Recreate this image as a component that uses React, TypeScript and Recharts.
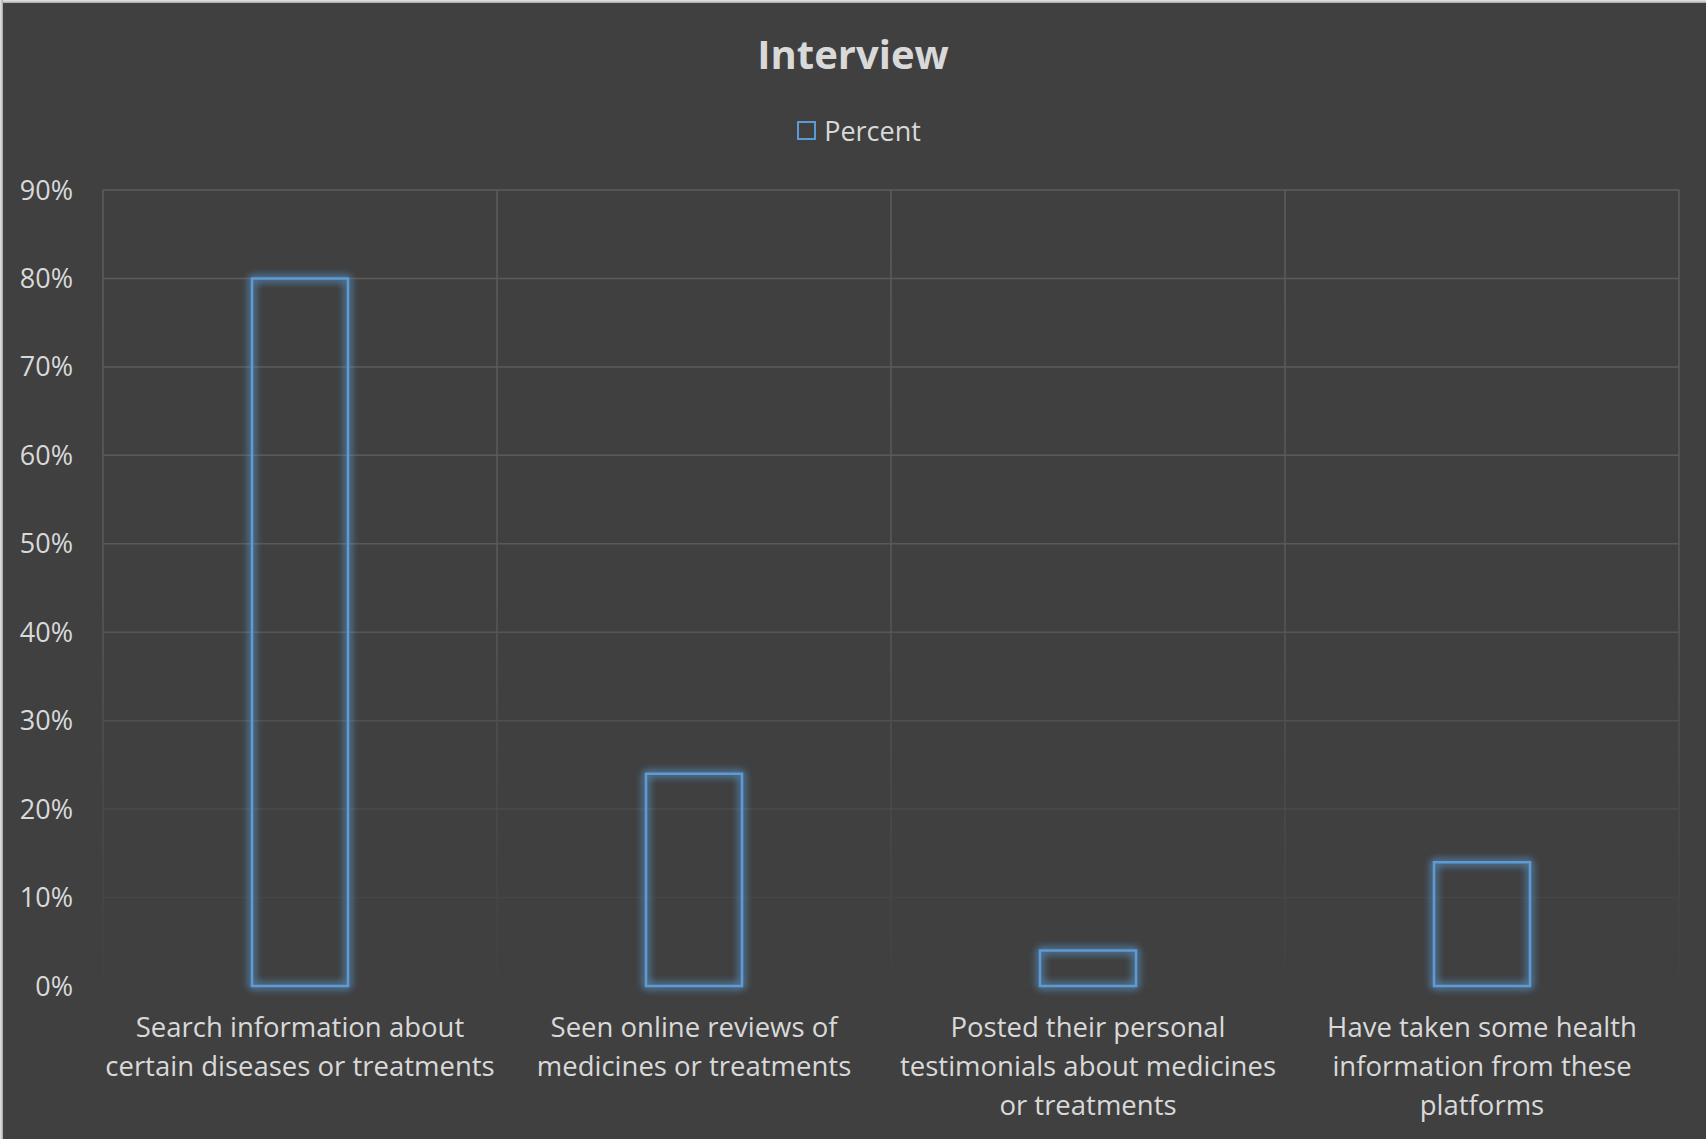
import React from "react";
import { Bar, BarChart, CartesianGrid, Legend, XAxis, YAxis } from "recharts";

const categories = [
  "Search information about\ncertain diseases or treatments",
  "Seen online reviews of\nmedicines or treatments",
  "Posted their personal\ntestimonials about medicines\nor treatments",
  "Have taken some health\ninformation from these\nplatforms",
];
const percentValues = [0.8, 0.24, 0.04, 0.14];
const yTicks = [0, 0.1, 0.2, 0.3, 0.4, 0.5, 0.6, 0.7, 0.8, 0.9];

const data = categories.map((name, i) => ({ name, Percent: percentValues[i] }));

const W = 1706;
const H = 1139;
const BG = "#404040";
const TEXT = "#d9d9d9";
const BLUE = "#5b9bd5";
const FONT = "'Open Sans', sans-serif";

const CategoryTick = (props: any) => {
  const { x, y, payload } = props;
  const lines = String(payload.value).split("\n");
  return (
    <text
      x={x}
      y={y + 51}
      textAnchor="middle"
      fill={TEXT}
      fontSize={27.5}
      fontFamily={FONT}
    >
      {lines.map((line, i) => (
        <tspan key={i} x={x} dy={i === 0 ? 0 : 39}>
          {line}
        </tspan>
      ))}
    </text>
  );
};

const LegendBox = () => (
  <div
    style={{
      display: "flex",
      justifyContent: "center",
      alignItems: "center",
      marginLeft: 12,
      fontFamily: FONT,
      fontSize: 27,
      lineHeight: "27px",
      color: TEXT,
    }}
  >
    <span
      style={{
        width: 19,
        height: 19,
        boxSizing: "border-box",
        border: `2px solid ${BLUE}`,
        marginRight: 8,
      }}
    />
    <span>Percent</span>
  </div>
);

export default function App() {
  return (
    <div
      style={{
        position: "absolute",
        left: 0,
        top: 0,
        width: W,
        height: H,
        background: BG,
        overflow: "hidden",
      }}
    >
      {/* shared svg defs: fading gridlines and bar glow */}
      <svg width={0} height={0} style={{ position: "absolute" }}>
        <defs>
          <linearGradient id="gridFade" gradientUnits="userSpaceOnUse" x1={0} y1={190} x2={0} y2={986}>
            <stop offset="0%" stopColor="#5c5c5c" />
            <stop offset="50%" stopColor="#595959" />
            <stop offset="75%" stopColor="#4b4b4b" />
            <stop offset="100%" stopColor="#414141" />
          </linearGradient>
          <filter id="barGlow" x="-50%" y="-50%" width="200%" height="200%">
            <feGaussianBlur in="SourceGraphic" stdDeviation="4" result="blur" />
            <feMerge>
              <feMergeNode in="blur" />
              <feMergeNode in="blur" />
              <feMergeNode in="SourceGraphic" />
            </feMerge>
          </filter>
        </defs>
      </svg>

      <div
        style={{
          position: "absolute",
          top: 34,
          left: 0,
          width: W,
          textAlign: "center",
          fontFamily: FONT,
          fontWeight: 700,
          fontSize: 40,
          lineHeight: "40px",
          color: TEXT,
        }}
      >
        Interview
      </div>

      <BarChart
        width={W}
        height={H}
        data={data}
        margin={{ top: 190, right: 27, bottom: 0, left: 0 }}
        barSize={96}
      >
        <CartesianGrid
          stroke="url(#gridFade)"
          strokeWidth={1.5}
          verticalCoordinatesGenerator={({ offset }: any) =>
            [0, 1, 2, 3, 4].map((i) => offset.left + (offset.width * i) / 4)
          }
        />
        <XAxis
          dataKey="name"
          height={153}
          axisLine={false}
          tickLine={false}
          tickSize={0}
          tickMargin={0}
          interval={0}
          tick={<CategoryTick />}
        />
        <YAxis
          width={103}
          domain={[0, 0.9]}
          ticks={yTicks}
          axisLine={false}
          tickLine={false}
          tickSize={0}
          tickMargin={30}
          tickFormatter={(v: number) => `${Math.round(v * 100)}%`}
          tick={{ fill: TEXT, fontSize: 27, fontFamily: FONT }}
        />
        <Legend
          layout="horizontal"
          verticalAlign="middle"
          align="center"
          content={<LegendBox />}
          wrapperStyle={{ position: "absolute", top: 117, left: 0, width: W, height: 27 }}
        />
        <Bar
          dataKey="Percent"
          fill="none"
          stroke={BLUE}
          strokeWidth={2.5}
          filter="url(#barGlow)"
          isAnimationActive={false}
        />
      </BarChart>

      {/* light frame on the top and left edges */}
      <div
        style={{
          position: "absolute",
          top: 0,
          left: 0,
          width: W,
          height: 3,
          background: "linear-gradient(#e8e8e8, #a8a8a8)",
        }}
      />
      <div
        style={{
          position: "absolute",
          top: 0,
          left: 0,
          width: 3,
          height: H,
          background: "linear-gradient(to right, #e8e8e8, #a8a8a8)",
        }}
      />
    </div>
  );
}
